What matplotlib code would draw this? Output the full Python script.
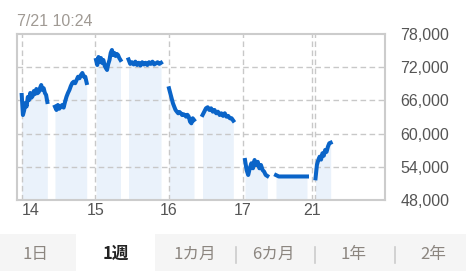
import matplotlib.pyplot as plt
import matplotlib.patches as mpatches
import numpy as np

# sessions: (start, end) in day units, 14日 = 0
sessions = [(0.000, 0.348), (0.452, 0.883),
            (1.010, 1.342), (1.451, 1.893),
            (2.001, 2.341), (2.457, 2.875),
            (3.034, 3.337), (3.455, 3.876),
            (3.992, 4.198)]

# prices (yen)
s1 = [66980, 63360, 64200, 65530, 64900, 66620, 66070, 67340, 66500, 66800, 67700, 67160,
      68060, 67300, 67520, 68240, 68780, 67880, 68200, 67340, 66980, 65710]
s2 = [64860, 64270, 65170, 64500, 64900, 65170, 64700, 65770, 66670, 67340, 67881, 68600,
      69150, 69380, 69100, 69690, 70280, 70000, 70590, 70950, 70300, 70280, 69150]
s3 = [73300, 72400, 73840, 72940, 73660, 72760, 73300, 72300, 71860, 71500, 72600, 73300,
      74570, 75110, 74200, 74570, 74030, 74400, 74200, 73660, 73300]
s4 = [73400, 72600, 72900, 72500, 73000, 72400, 72800, 72300, 72900, 72500, 72800, 72400,
      72900, 72600, 73000, 72500, 72700, 72900, 72600, 72800]
s5 = [68190, 67280, 66380, 65480, 64860, 64270, 63960, 63670, 63900, 63670, 63360, 63500,
      63360, 63060, 63400, 63060, 62150, 61860, 62770, 62460]
s6 = [63360, 63960, 64570, 64760, 64270, 64570, 63960, 64270, 63670, 63960, 63360, 63670,
      63200, 63670, 63060, 63200, 62770, 62770, 62330]
s7 = [55230, 53430, 52520, 53730, 54640, 53730, 55230, 54330, 54900, 53730, 54330, 53430,
      53120, 52520, 52340]
s8 = [52500, 52250, 52250, 52250, 52250, 52250, 52250, 52250, 52250, 52250, 52250, 52250]
s9 = [51920, 54330, 55230, 55830, 55300, 56440, 56000, 57040, 56700, 57640, 58250, 58360]
series = [s1, s2, s3, s4, s5, s6, s7, s8, s9]

day_ticks = [0, 1, 2, 3, 3.94]
day_labels = ['14', '15', '16', '17', '21']
y_ticks = [48000, 54000, 60000, 66000, 72000, 78000]
tabs = ['1日', '1週', '1カ月', '6カ月', '1年', '2年']
tab_x = [36, 116, 195, 273, 354, 433]
sep_x = [236, 315, 395]

line_col = '#0a64c8'
fill_col = '#eaf2fb'
grid_col = '#c8c8c8'
text_col = '#555555'

plt.rcParams['font.family'] = ['Liberation Sans', 'DejaVu Sans']

W, H = 466, 271
fig = plt.figure(figsize=(W / 100, H / 100), dpi=100)
ax = fig.add_axes([17 / W, 1 - 200 / H, 368 / W, 166 / H])

for (a, b), vals in zip(sessions, series):
    x = np.linspace(a, b, len(vals))
    ax.fill_between(x, vals, 48000, color=fill_col, lw=0, zorder=1)
    ax.plot(x, vals, color=line_col, lw=2.9, solid_joinstyle='round', zorder=3)

ax.set_xlim(-0.064, 4.936)
ax.set_ylim(48000, 78000)

dash = (0, (4, 2.5))
for yv in y_ticks[1:-1]:
    ax.axhline(yv, color=grid_col, lw=1.0, ls=dash, zorder=2)
for xv in day_ticks + [3.985]:
    ax.axvline(xv, color=grid_col, lw=1.0, ls=dash, zorder=2)

for sp in ax.spines.values():
    sp.set_color('#cccccc')
    sp.set_linewidth(1.5)

ax.yaxis.tick_right()
ax.set_yticks(y_ticks)
ax.set_yticklabels([f'{v:,}' for v in y_ticks])
ax.set_xticks(day_ticks)
ax.set_xticklabels(day_labels)
ax.tick_params(length=0, labelsize=11.5, colors=text_col)
ax.tick_params(axis='y', pad=11)
ax.tick_params(axis='x', pad=2)
ax.get_xticklabels()[0].set_horizontalalignment('left')

fig.text(17 / W, 1 - 21 / H, '7/21 10:24', fontsize=11.5, color='#a09a94', va='center', ha='left')

# period tabs
fig.patches.append(mpatches.Rectangle((0, 0), 1, 37 / H, transform=fig.transFigure,
                                      facecolor='#f5f5f5', edgecolor='none'))
fig.patches.append(mpatches.Rectangle((76 / W, 0), 79 / W, 37 / H, transform=fig.transFigure,
                                      facecolor='white', edgecolor='none'))
for lab, tx in zip(tabs, tab_x):
    bold = lab == '1週'
    fig.text(tx / W, 1 - 254 / H, lab, fontsize=12, ha='center', va='center',
             family=['Noto Sans CJK JP', 'DejaVu Sans'],
             color='#222222' if bold else '#8c8680', fontweight='bold' if bold else 'normal')
for sx in sep_x:
    fig.add_artist(plt.Line2D([sx / W, sx / W], [1 - 247 / H, 1 - 263 / H],
                              transform=fig.transFigure, color='#cccccc', lw=1.2))

fig.savefig('out.png', dpi=100)
